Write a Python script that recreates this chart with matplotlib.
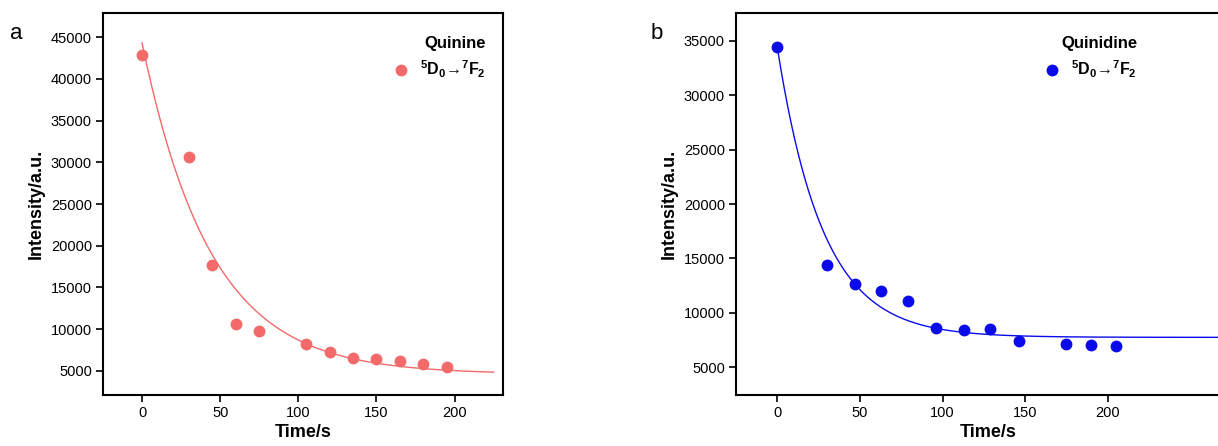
import numpy as np
import matplotlib.pyplot as plt

plt.rcParams['font.family'] = ['Liberation Sans', 'DejaVu Sans']
plt.rcParams['mathtext.fontset'] = 'custom'
plt.rcParams['mathtext.rm'] = 'Liberation Sans:bold'
plt.rcParams['mathtext.it'] = 'Liberation Sans:bold'
plt.rcParams['mathtext.bf'] = 'Liberation Sans:bold'

# quinine (panel a)
time_a = [0, 30, 45, 60, 75, 105, 120, 135, 150, 165, 180, 195]
int_a = [42880, 30630, 17650, 10630, 9830, 8230, 7240, 6520, 6400, 6120, 5800, 5440]
# exponential fit: y0 + A*exp(-t/tau)
fit_a = dict(y0=4600, A=39720, tau=44.0, t_end=225)

# quinidine (panel b)
time_b = [0, 30, 47, 63, 79, 96, 113, 129, 146, 175, 190, 205]
int_b = [34420, 14410, 12630, 12020, 11070, 8640, 8400, 8550, 7420, 7140, 7050, 6960]
fit_b = dict(y0=7750, A=26650, tau=27.7, t_end=280)

label = r'$^5$D$_0$→$^7$F$_2$'

fig = plt.figure(figsize=(12.18, 4.46), dpi=100)
ax_a = fig.add_axes([103 / 1218, 51 / 446, 400 / 1218, 382 / 446])
ax_b = fig.add_axes([736 / 1218, 51 / 446, 504 / 1218, 382 / 446])

panels = [
    (ax_a, time_a, int_a, fit_a, '#F26A6A', 'Quinine', 'a', 10, (-25, 231), (2100, 47900),
     range(5000, 45001, 5000), 0.98),
    (ax_b, time_b, int_b, fit_b, '#0A0AEB', 'Quinidine', 'b', 651, (-25, 280), (2450, 37570),
     range(5000, 35001, 5000), 0.815),
]

for ax, t, y, fit, color, name, letter, lett_x, xlim, ylim, yticks, lx in panels:
    tt = np.linspace(0, fit['t_end'], 400)
    ax.plot(tt, fit['y0'] + fit['A'] * np.exp(-tt / fit['tau']), color=color, lw=1.0)
    ax.plot(t, y, 'o', color=color, ms=7.5, ls='none', label=label)
    ax.set_xlim(*xlim)
    ax.set_ylim(*ylim)
    ax.set_xticks([0, 50, 100, 150, 200])
    ax.set_yticks(list(yticks))
    ax.tick_params(labelsize=10.5, width=1.2, length=5, direction='out', pad=3)
    for s in ax.spines.values():
        s.set_linewidth(1.5)
    ax.set_xlabel('Time/s', fontsize=13, fontweight='bold', labelpad=3)
    ax.set_ylabel('Intensity/a.u.', fontsize=13, fontweight='bold', labelpad=4)
    ax.legend(loc='upper right', bbox_to_anchor=(lx, 0.965), frameon=False,
              title=name, title_fontproperties={'weight': 'bold', 'size': 12},
              prop={'weight': 'bold', 'size': 11.5}, alignment='right',
              handlelength=1.0, handletextpad=0.7, borderaxespad=0.2)
    fig.text(lett_x / 1218, 1 - 23 / 446, letter, fontsize=16, va='top')

fig.savefig('out.png', dpi=100)
